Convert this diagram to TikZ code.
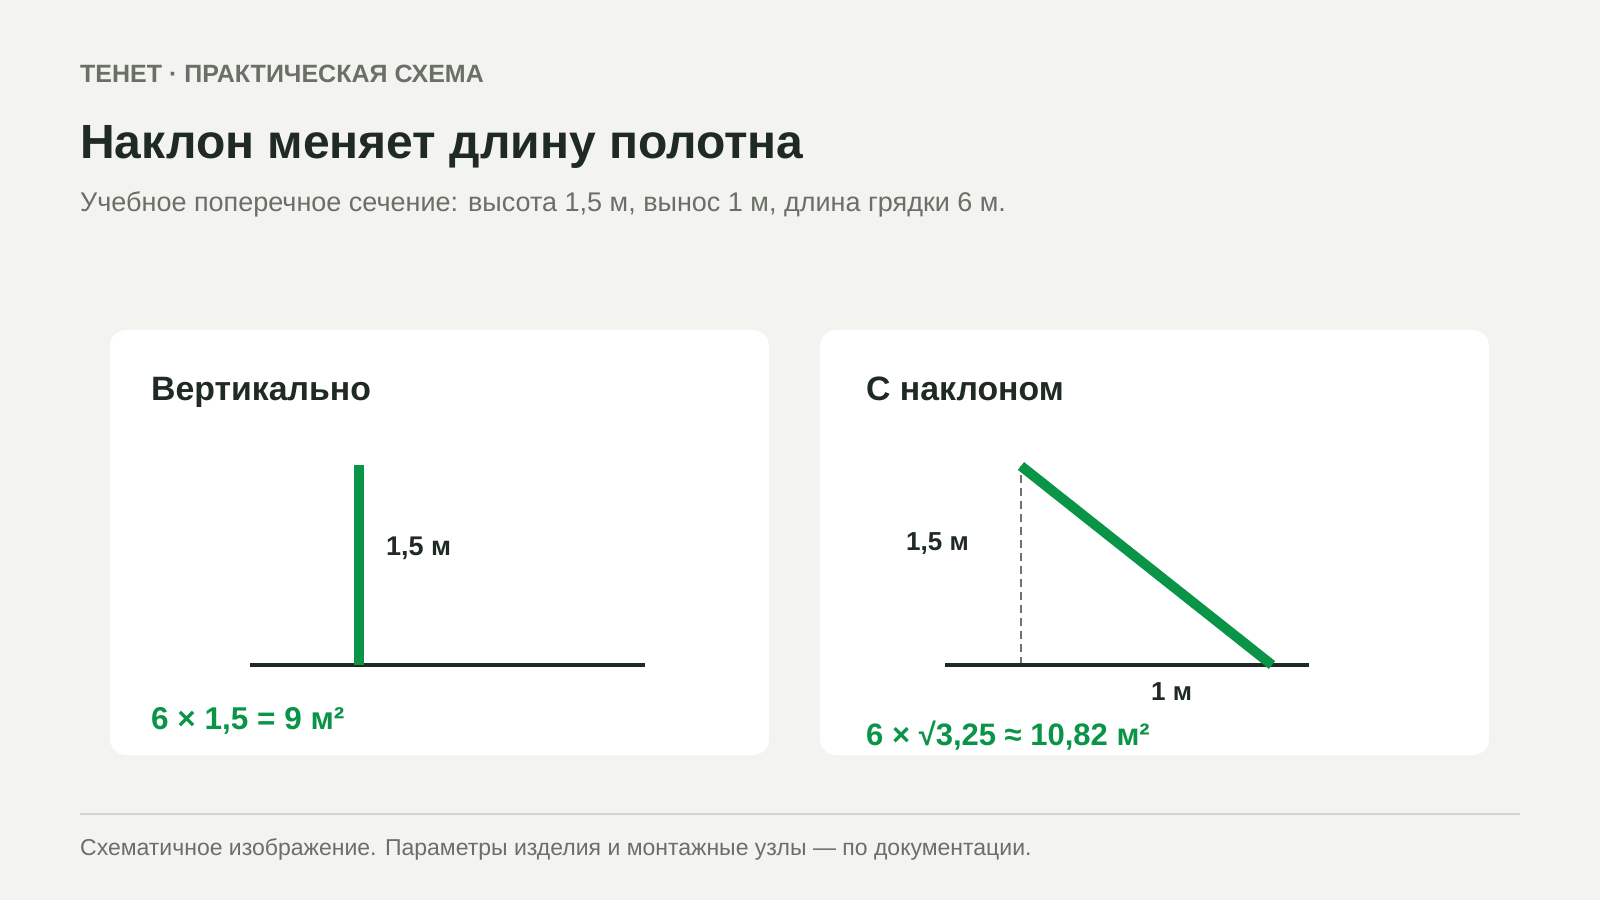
\documentclass[tikz,border=0pt]{standalone}
\usepackage{fontspec}
\setmainfont{Liberation Sans}
\definecolor{bg}{HTML}{F3F4EF}
\definecolor{ink}{HTML}{1E2A22}
\definecolor{muted}{HTML}{6A6F68}
\definecolor{accent}{HTML}{0A9447}
\definecolor{rule}{HTML}{D3D6CF}
\definecolor{dashc}{HTML}{707070}
\tikzset{
  card/.style={fill=white, draw=none, rounded corners=16pt},
  ground/.style={draw=ink, line width=4pt},
  panel/.style={draw=accent, line width=10pt},
  guide/.style={draw=dashc, line width=2.5pt, dash pattern=on 8pt off 5pt},
  txt/.style={inner sep=0pt, anchor=base west},
}
\begin{document}
\begin{tikzpicture}[x=1pt,y=-1pt]
\fill[bg] (0,0) rectangle (1600,900);
\useasboundingbox (0,0) rectangle (1600,900);

\node[txt, text=muted, font=\fontsize{25}{30}\selectfont\bfseries] (kicker) at (80,82) {ТЕНЕТ · ПРАКТИЧЕСКАЯ СХЕМА};
\node[txt, text=ink, font=\fontsize{48}{56}\selectfont\bfseries] (title) at (80,158) {Наклон меняет длину полотна};
\node[txt, text=muted, font=\fontsize{27}{32}\selectfont] (sub) at (80,211) {Учебное поперечное сечение: высота 1,5 м, вынос 1 м, длина грядки 6 м.};

% left card
\path[card] (110,330) rectangle (769,755);
\node[txt, text=ink, font=\fontsize{33.8}{38}\selectfont\bfseries] (h1) at (151,400) {Вертикально};
\coordinate (g1a) at (250,665);
\coordinate (g1b) at (645,665);
\coordinate (v1top) at (359,465);
\coordinate (v1bot) at (359,665);
\draw[ground] (g1a) -- (g1b);
\draw[panel] (v1bot) -- (v1top);
\node[txt, text=ink, font=\fontsize{27}{32}\selectfont\bfseries] (l1) at (386,555) {1,5 м};
\node[txt, text=accent, font=\fontsize{31.5}{36}\selectfont\bfseries] (f1) at (151,729) {6 × 1,5 = 9 м²};

% right card
\path[card] (820,330) rectangle (1489,755);
\node[txt, text=ink, font=\fontsize{33.8}{38}\selectfont\bfseries] (h2) at (866,400) {С наклоном};
\coordinate (g2a) at (945,665);
\coordinate (g2b) at (1309,665);
\coordinate (s2top) at (1021,466);
\coordinate (s2foot) at (1021,665);
\coordinate (s2bot) at (1272,665);
\draw[guide] (s2foot) -- (s2top);
\draw[ground] (g2a) -- (g2b);
\draw[panel] (s2top) -- (s2bot);
\node[txt, text=ink, font=\fontsize{26}{30}\selectfont\bfseries] (l2) at (906,550) {1,5 м};
\node[txt, text=ink, font=\fontsize{26}{30}\selectfont\bfseries] (l3) at (1151,700) {1 м};
\node[txt, text=accent, font=\fontsize{31}{36}\selectfont\bfseries] (f2) at (866,745) {6 × √3,25 ≈ 10,82 м²};

% footer
\coordinate (ra) at (80,814);
\coordinate (rb) at (1520,814);
\draw[draw=rule, line width=2pt] (ra) -- (rb);
\node[txt, text=muted, font=\fontsize{23}{27}\selectfont] (foot) at (80,855) {Схематичное изображение. Параметры изделия и монтажные узлы — по документации.};
\end{tikzpicture}
\end{document}
